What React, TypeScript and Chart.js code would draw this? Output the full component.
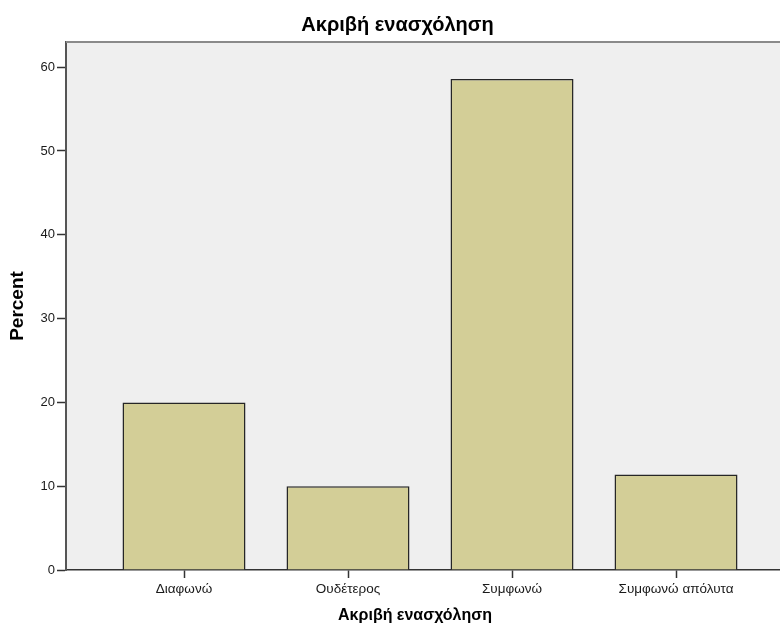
import React, { useEffect, useRef } from "react";
import { Chart, registerables } from "chart.js";

Chart.register(...registerables);

const chartTitle = "Ακριβή ενασχόληση";
const xAxisTitle = "Ακριβή ενασχόληση";
const yAxisTitle = "Percent";
const categories = ["Διαφωνώ", "Ουδέτερος", "Συμφωνώ", "Συμφωνώ απόλυτα"];
const percentValues = [20.0, 10.0, 58.6, 11.4];
const yTicks = [0, 10, 20, 30, 40, 50, 60];

const FONT = "'Liberation Sans', Arial, Helvetica, sans-serif";

const plotFrame = {
  id: "plotFrame",
  beforeDraw(chart: any) {
    const { ctx, chartArea } = chart;
    ctx.save();
    ctx.fillStyle = "#ffffff";
    ctx.fillRect(0, 0, chart.width, chart.height);
    ctx.fillStyle = "#efefef";
    ctx.fillRect(chartArea.left, chartArea.top, chartArea.right - chartArea.left, chartArea.bottom - chartArea.top);
    ctx.restore();
  },
  afterDraw(chart: any) {
    const { ctx, chartArea } = chart;
    ctx.save();
    ctx.strokeStyle = "#8a8a8a";
    ctx.lineWidth = 2;
    ctx.beginPath();
    ctx.moveTo(chartArea.left, chartArea.top);
    ctx.lineTo(chartArea.right, chartArea.top);
    ctx.stroke();
    ctx.fillStyle = "#000000";
    ctx.textAlign = "center";
    ctx.textBaseline = "middle";
    // chart title
    ctx.font = `bold 20px ${FONT}`;
    ctx.fillText(chartTitle, 397.5, 25);
    // x axis title
    ctx.font = `bold 16px ${FONT}`;
    ctx.fillText(xAxisTitle, 415, 616);
    ctx.restore();
  },
};

export default function App() {
  const ref = useRef<HTMLCanvasElement | null>(null);

  useEffect(() => {
    document.body.style.margin = "0";
    const canvas = ref.current;
    if (!canvas) return;
    const points = percentValues.map((v, i) => ({ x: i, y: v }));
    const chart = new Chart(canvas, {
      type: "bar",
      data: {
        datasets: [
          {
            label: yAxisTitle,
            data: points as any,
            backgroundColor: "#d3ce97",
            borderColor: "#262626",
            borderWidth: 1.5,
            categoryPercentage: 1,
            barPercentage: 0.75,
          },
        ],
      },
      options: {
        responsive: false,
        animation: false,
        layout: { padding: { left: 0, right: 0, top: 42, bottom: 0 } },
        plugins: {
          legend: { display: false },
          tooltip: { enabled: false },
          title: { display: false },
        },
        scales: {
          x: {
            type: "linear",
            offset: false,
            min: -0.7195,
            max: 3.634,
            afterBuildTicks(scale: any) {
              scale.ticks = categories.map((_, i) => ({ value: i }));
            },
            afterFit(scale: any) {
              scale.height = 58;
            },
            ticks: {
              autoSkip: false,
              maxRotation: 0,
              padding: 3,
              color: "#1a1a1a",
              font: { family: FONT, size: 13.5 },
              callback: (v: any) => categories[v] ?? "",
            },
            grid: {
              offset: false,
              drawOnChartArea: false,
              drawTicks: true,
              tickLength: 8,
              tickColor: "#333333",
              tickWidth: 1.5,
            },
            border: { display: true, color: "#333333", width: 1.5 },
            title: { display: false },
          },
          y: {
            type: "linear",
            min: 0,
            max: 63,
            afterBuildTicks(scale: any) {
              scale.ticks = yTicks.map((v) => ({ value: v }));
            },
            afterFit(scale: any) {
              scale.width = 66;
            },
            ticks: {
              padding: 2,
              color: "#1a1a1a",
              font: { family: FONT, size: 13 },
            },
            grid: {
              drawOnChartArea: false,
              drawTicks: true,
              tickLength: 9,
              tickColor: "#333333",
              tickWidth: 1.5,
            },
            border: { display: true, color: "#555555", width: 2 },
            title: {
              display: true,
              text: yAxisTitle,
              color: "#000000",
              font: { family: FONT, size: 19, weight: "bold" },
              padding: { top: 6, bottom: 0 },
            },
          },
        },
      },
      plugins: [plotFrame],
    });
    return () => chart.destroy();
  }, []);

  return <canvas ref={ref} width={780} height={628} style={{ display: "block" }} />;
}
